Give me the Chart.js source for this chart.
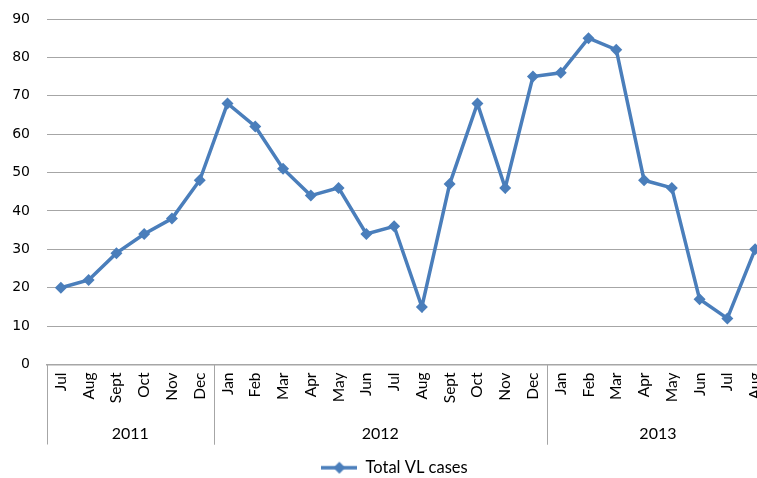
<!DOCTYPE html>
<html><head><meta charset="utf-8">
<script src="https://cdn.jsdelivr.net/npm/chart.js@4"></script>
<style>
html,body{margin:0;padding:0;overflow:hidden;background:#fff}
#wrap{width:775px;height:478px;position:relative}
</style>
</head><body>
<div id="wrap"><canvas id="c"></canvas></div>
<script>
// data
const months = ['Jul','Aug','Sept','Oct','Nov','Dec',
  'Jan','Feb','Mar','Apr','May','Jun','Jul','Aug','Sept','Oct','Nov','Dec',
  'Jan','Feb','Mar','Apr','May','Jun','Jul','Aug'];
const years = ['2011','2012','2013'];
const yearSpans = [6,12,8];
const cases = [20,22,29,34,38,48, 68,62,51,44,46,34,36,15,47,68,46,75, 76,85,82,48,46,17,12,30];
const yMax = 90, yStep = 10;

const blue = '#4a7ebb';
const gridGray = '#a6a6a6';

// legend swatch: line with a diamond
const sw = document.createElement('canvas');
sw.width = 36; sw.height = 14;
(function(){
  const g = sw.getContext('2d');
  g.strokeStyle = blue; g.lineWidth = 3.5;
  g.beginPath(); g.moveTo(0,7); g.lineTo(36,7); g.stroke();
  g.fillStyle = blue;
  g.beginPath(); g.moveTo(18,1); g.lineTo(24,7); g.lineTo(18,13); g.lineTo(12,7); g.closePath(); g.fill();
})();

const yearGroups = {
  id:'yearGroups',
  afterLayout(chart){
    // nudge legend to where the original sits
    chart.legend.left += 10; chart.legend.right += 10;
  },
  afterDraw(chart){
    const x = chart.scales.x, ctx = chart.ctx, a = chart.chartArea;
    const half = (x.getPixelForValue(1) - x.getPixelForValue(0)) / 2;
    const bottom = a.bottom + 80;
    ctx.save();
    ctx.strokeStyle = gridGray; ctx.lineWidth = 1;
    ctx.fillStyle = '#000';
    ctx.font = '16px Lato, "Open Sans", sans-serif';
    ctx.textAlign = 'center'; ctx.textBaseline = 'middle';
    let s = 0;
    years.forEach((yr, i) => {
      const l = x.getPixelForValue(s) - half;
      const r = x.getPixelForValue(s + yearSpans[i] - 1) + half;
      [l, r].forEach(px => {
        ctx.beginPath(); ctx.moveTo(Math.round(px)+0.5, a.bottom); ctx.lineTo(Math.round(px)+0.5, bottom); ctx.stroke();
      });
      ctx.fillText(yr, (l + r) / 2, a.bottom + 69);
      s += yearSpans[i];
    });
    ctx.restore();
  }
};

new Chart(document.getElementById('c'), {
  type:'line',
  data:{labels:months, datasets:[{
    label:'Total VL cases', data:cases,
    borderColor:blue, backgroundColor:blue, borderWidth:3.5,
    pointStyle:'rectRot', pointRadius:6, pointHoverRadius:6,
    pointBackgroundColor:blue, pointBorderColor:blue, pointBorderWidth:0,
    tension:0
  }]},
  options:{
    responsive:true, maintainAspectRatio:false, animation:false,
    layout:{padding:{top:19, right:6, left:0, bottom:-8}},
    scales:{
      x:{
        offset:true,
        grid:{display:false, drawTicks:false},
        border:{display:true, color:gridGray, width:1.5},
        ticks:{color:'#000', font:{family:'Lato, "Open Sans", sans-serif', size:15.5}, minRotation:90, maxRotation:90, autoSkip:false, padding:8},
        afterFit(s){ s.height = 91; s.paddingLeft = 0; s.paddingRight = 0; }
      },
      y:{
        min:0, max:yMax,
        grid:{color:gridGray, lineWidth:1, drawTicks:false},
        border:{display:false},
        ticks:{stepSize:yStep, color:'#000', font:{family:'"DejaVu Sans", sans-serif', size:14}, padding:17},
        afterFit(s){ s.width = 47; s.paddingTop = 0; s.paddingBottom = 0; }
      }
    },
    plugins:{
      legend:{position:'bottom', labels:{usePointStyle:true, pointStyle:sw, pointStyleWidth:36, boxHeight:14, padding:4, color:'#000', font:{family:'Lato, "Open Sans", sans-serif', size:16.5},
        generateLabels(chart){
          return chart.data.datasets.map((d,i)=>({text:d.label, pointStyle:sw, fillStyle:blue, strokeStyle:blue, lineWidth:0, datasetIndex:i, hidden:false}));
        }}},
      tooltip:{enabled:false}
    }
  },
  plugins:[yearGroups]
});
</script>
</body></html>
